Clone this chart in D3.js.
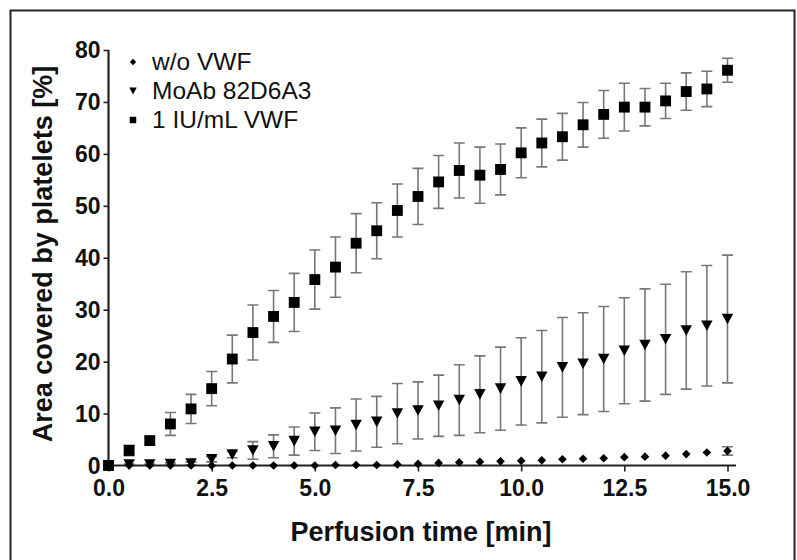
<!DOCTYPE html>
<html>
<head>
<meta charset="utf-8">
<script src="https://cdn.jsdelivr.net/npm/d3@7"></script>
<style>
  body { margin: 0; background: #fff; }
  svg { display: block; font-family: Arial, "Liberation Sans", sans-serif; }
</style>
</head>
<body>
<div id="chart"></div>
<script>
// Perfusion time [min]
const times = [0, 0.5, 1, 1.5, 2, 2.5, 3, 3.5, 4, 4.5, 5, 5.5, 6, 6.5, 7, 7.5,
  8, 8.5, 9, 9.5, 10, 10.5, 11, 11.5, 12, 12.5, 13, 13.5, 14, 14.5, 15];

// w/o VWF
const woVwf = [0, 0, 0, 0, 0, 0, 0, 0, 0, 0, 0, 0.1, 0.1, 0.1, 0.2, 0.3,
  0.5, 0.6, 0.7, 0.8, 0.9, 1.0, 1.2, 1.3, 1.4, 1.6, 1.7, 1.9, 2.2, 2.5, 2.8];
const woVwfErr = [0, 0, 0, 0, 0, 0, 0, 0, 0, 0, 0, 0, 0, 0, 0, 0,
  0, 0, 0, 0, 0, 0, 0, 0, 0, 0, 0, 0, 0, 0, 0.8];

// MoAb 82D6A3
const moab = [0, 0.2, 0.2, 0.3, 0.4, 1.2, 2.1, 2.9, 3.7, 4.7, 6.5, 6.7, 7.8, 8.4, 10.0, 10.6,
  11.5, 12.6, 13.7, 14.8, 16.2, 17.1, 18.9, 19.6, 20.5, 22.1, 23.2, 24.3, 26.0, 26.9, 28.2];
const moabErr = [0, 0.1, 0.1, 0.2, 0.3, 0.5, 0.6, 1.7, 2.2, 2.7, 3.6, 4.4, 5.0, 4.9, 5.8, 5.5,
  5.9, 6.8, 7.4, 8.0, 8.4, 8.9, 9.6, 9.8, 10.1, 10.2, 10.8, 10.6, 11.3, 11.6, 12.3];

// 1 IU/mL VWF
const vwf = [0, 2.9, 4.8, 8.0, 10.9, 14.8, 20.5, 25.6, 28.7, 31.4, 35.8, 38.2, 42.8, 45.2, 49.1, 51.8,
  54.6, 56.8, 55.9, 57.0, 60.2, 62.1, 63.3, 65.6, 67.6, 69.0, 69.0, 70.2, 72.0, 72.5, 76.1];
const vwfErr = [0, 1.0, 0.6, 2.2, 2.8, 3.3, 4.6, 5.3, 5.0, 5.6, 5.7, 5.8, 5.7, 5.4, 5.1, 5.4,
  5.1, 5.3, 5.4, 4.9, 4.8, 4.6, 4.5, 4.3, 4.6, 4.6, 3.6, 3.4, 3.6, 3.4, 2.3];

const xTicks = [0, 2.5, 5, 7.5, 10, 12.5, 15];
const yTicks = [0, 10, 20, 30, 40, 50, 60, 70, 80];

const series = [
  { name: 'w/o VWF', values: woVwf, err: woVwfErr, symbol: d3.symbolDiamond2, size: 48, legendSize: 26 },
  { name: 'MoAb 82D6A3', values: moab, err: moabErr, symbol: 'tri', size: 11.5, legendSize: 7.5 },
  { name: '1 IU/mL VWF', values: vwf, err: vwfErr, symbol: d3.symbolSquare, size: 118, legendSize: 42 }
];

const width = 797, height = 560;

const svg = d3.select('#chart').append('svg')
  .attr('width', width)
  .attr('height', height);

// outer frame
svg.append('rect')
  .attr('x', 10.5).attr('y', 10.5)
  .attr('width', 784).attr('height', 600)
  .attr('fill', 'none')
  .attr('stroke', '#222')
  .attr('stroke-width', 2);

const x = d3.scaleLinear().domain([0, 15]).range([108.5, 727.5]);
const y = d3.scaleLinear().domain([0, 80]).range([465.5, 50]);

// down-pointing triangle of width w centred on the point
function downTri(w) {
  const h = w * 0.92;
  return `M${-w / 2},${-h / 2}L${w / 2},${-h / 2}L0,${h / 2}Z`;
}
function markerPath(s, legend) {
  if (s.symbol === 'tri') return downTri(legend ? s.legendSize : s.size);
  return d3.symbol(s.symbol, legend ? s.legendSize : s.size)();
}

// error bars
const barG = svg.append('g').attr('stroke', '#777').attr('stroke-width', 1.6).attr('fill', 'none');
series.forEach(s => {
  times.forEach((t, i) => {
    if (!s.err[i]) return;
    const cx = x(t), y0 = y(s.values[i] - s.err[i]), y1 = y(s.values[i] + s.err[i]);
    barG.append('path')
      .attr('d', `M${cx},${y0}V${y1}M${cx - 5.5},${y0}H${cx + 5.5}M${cx - 5.5},${y1}H${cx + 5.5}`);
  });
});

// axes
const axisColor = '#222';
const yAxis = svg.append('g')
  .attr('transform', `translate(${x(0)},0)`)
  .call(d3.axisLeft(y).tickValues(yTicks).tickSize(5).tickSizeOuter(0).tickPadding(3).tickFormat(d3.format('d')));
yAxis.select('.domain').remove();
yAxis.append('line')
  .attr('y1', y(80)).attr('y2', y(0) + 1)
  .attr('stroke', axisColor).attr('stroke-width', 2.2);

const xAxis = svg.append('g')
  .attr('transform', `translate(0,${y(0)})`)
  .call(d3.axisBottom(x).tickValues(xTicks).tickSize(6).tickSizeOuter(0).tickPadding(8).tickFormat(d3.format('.1f')));
xAxis.select('.domain').remove();
xAxis.append('line')
  .attr('x1', x(0) - 1).attr('x2', x(15) + 8.5)
  .attr('stroke', axisColor).attr('stroke-width', 2.2);

[yAxis, xAxis].forEach(g => {
  g.selectAll('.tick line').attr('stroke', axisColor).attr('stroke-width', 1.6);
  g.selectAll('.tick text')
    .attr('fill', '#111')
    .style('font-family', 'Arial, "Liberation Sans", sans-serif')
    .style('font-size', '23px')
    .style('font-weight', 'bold');
});
yAxis.selectAll('.tick text').attr('dy', '0.33em');

// markers
series.forEach(s => {
  svg.append('g').selectAll('path')
    .data(times.map((t, i) => [t, s.values[i]]))
    .join('path')
    .attr('transform', d => `translate(${x(d[0])},${y(d[1])})`)
    .attr('d', markerPath(s, false))
    .attr('fill', '#000');
});

// legend
const legend = svg.append('g');
series.forEach((s, i) => {
  const ly = 62 + i * 29;
  legend.append('path')
    .attr('transform', `translate(133,${ly})`)
    .attr('d', markerPath(s, true))
    .attr('fill', '#000');
  legend.append('text')
    .attr('x', 152).attr('y', ly + 8)
    .attr('fill', '#111')
    .style('font-size', '24.5px')
    .text(s.name);
});

// axis titles
svg.append('text')
  .attr('x', 421).attr('y', 541)
  .attr('text-anchor', 'middle')
  .attr('fill', '#111')
  .style('font-size', '27px')
  .style('font-weight', 'bold')
  .text('Perfusion time [min]');

svg.append('text')
  .attr('transform', 'translate(52,254) rotate(-90)')
  .attr('text-anchor', 'middle')
  .attr('fill', '#111')
  .style('font-size', '27px')
  .style('font-weight', 'bold')
  .text('Area covered by platelets [%]');
</script>
</body>
</html>
